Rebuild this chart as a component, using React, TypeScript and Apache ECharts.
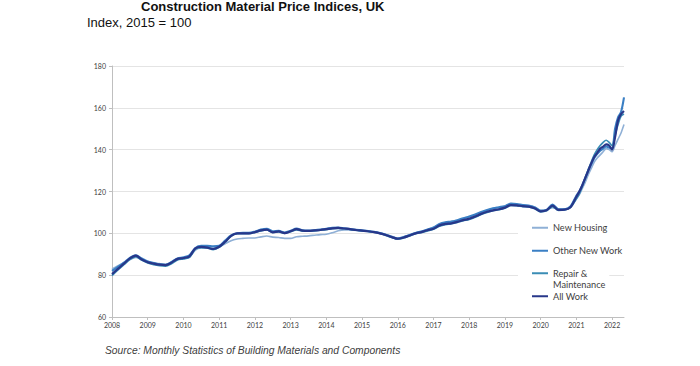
import React, { useEffect, useRef } from "react";
import * as echarts from "echarts";

// Sample periods: bi-monthly 2008–2020, monthly 2021–May 2022
const periods: string[] = [];
for (let y = 2008; y <= 2020; y++) for (let m = 1; m <= 11; m += 2) periods.push(`${y}-${String(m).padStart(2, "0")}`);
for (let m = 1; m <= 12; m++) periods.push(`2021-${String(m).padStart(2, "0")}`);
for (let m = 1; m <= 5; m++) periods.push(`2022-${String(m).padStart(2, "0")}`);

const newHousing = [
  83, 84.5, 86, 87.5, 88.5, 87.5,
  86.5, 86, 85.5, 85.2, 86, 87.5,
  88, 88.5, 92, 93, 93, 93,
  93.5, 95, 96.5, 97.3, 97.6, 97.8,
  97.8, 98.3, 98.7, 98.2, 98, 97.6,
  97.6, 98.4, 98.6, 98.8, 99.1, 99.4,
  99.6, 100.3, 101.2, 101.6, 101.6, 101.4,
  101.2, 100.9, 100.6, 100.1, 99.4, 98.6,
  97.8, 98.4, 99.3, 100.3, 101, 101.8,
  102.8, 104.3, 105.2, 105.6, 106.3, 107,
  107.8, 108.8, 110, 111, 111.8, 112.4,
  113, 114, 113.8, 113.6, 113.4, 112.6,
  111, 111.3, 112.2, 111.5, 111.6, 112.6,
  116.5, 118.5, 121.5, 124.5, 128, 131, 134, 136, 137.5, 139, 140.5, 140,
  139, 142, 145, 148, 152,
];

const otherNewWork = [
  82, 84, 86, 88.3, 89.5, 88,
  86.5, 85.8, 85.2, 85, 86.3, 88,
  88.5, 89.5, 93, 94, 94, 93.8,
  94, 96.5, 99, 100, 100.3, 100.2,
  100.8, 101.8, 102.2, 101, 101.2, 100.4,
  101.2, 102.3, 101.5, 101.3, 101.5, 101.8,
  102.2, 102.7, 102.8, 102.4, 102, 101.7,
  101.4, 101.1, 100.7, 100.1, 99.3, 98.3,
  97.5, 98.2, 99.2, 100.2, 100.9, 101.8,
  102.8, 104.5, 105.3, 105.6, 106.3, 107.2,
  108, 109, 110.2, 111.2, 112, 112.5,
  113, 114.2, 114, 113.5, 113.2, 112.4,
  110.8, 111.2, 113.8, 111.5, 111.5, 112.8,
  118, 120, 123, 126.5, 130, 133, 136, 138, 139.5, 140.5, 141.5, 141,
  140.5, 150, 155.5, 158, 165,
];

const repairMaintenance = [
  79.8, 82.5, 85, 87.5, 88.8, 87.2,
  85.8, 85, 84.5, 84.3, 85.5, 87.3,
  87.8, 88.5, 92.5, 93.2, 93, 92.2,
  93.3, 95.8, 98.6, 99.8, 99.9, 99.9,
  100.4, 101.2, 101.6, 100.4, 100.7, 100,
  100.8, 101.7, 101.1, 101, 101.2, 101.5,
  101.8, 102.2, 102.4, 102.2, 101.9, 101.5,
  101.2, 100.9, 100.5, 99.9, 99, 98,
  97.2, 97.8, 98.8, 99.8, 100.4, 101.2,
  102, 103.4, 104.2, 104.6, 105.2, 106,
  106.7, 107.7, 109, 110, 110.8, 111.3,
  112, 113.3, 113.2, 112.8, 112.6, 111.8,
  110.3, 110.8, 112.8, 111, 111.2, 112.3,
  116.5, 119, 122.5, 126.5, 130.5, 134, 137.5, 140, 142, 143.5, 144.5, 143.5,
  142, 147, 152, 156, 157,
];

const allWork = [
  80.5, 83, 85.5, 88, 89.3, 87.5,
  86.2, 85.5, 85, 84.8, 86, 87.8,
  88.2, 89, 92.8, 93.5, 93.2, 92.5,
  93.6, 96, 98.8, 100, 100, 100,
  100.6, 101.4, 101.8, 100.5, 100.9, 100.1,
  101, 102, 101.3, 101.2, 101.4, 101.6,
  102, 102.4, 102.6, 102.3, 102, 101.6,
  101.3, 101, 100.6, 100, 99.2, 98.2,
  97.4, 98, 99, 100, 100.6, 101.5,
  102.2, 103.8, 104.5, 104.8, 105.5, 106.3,
  107, 108, 109.3, 110.3, 111, 111.5,
  112.3, 113.5, 113.4, 113, 112.8, 112,
  110.5, 111, 113.2, 111.2, 111.3, 112.5,
  117.5, 120, 123, 126.5, 130, 133.5, 136.5, 138.5, 140.5, 141.5, 142.5, 142,
  140, 146, 154, 157, 158.5,
];

const seriesNames = ["New Housing", "Other New Work", "Repair & Maintenance", "All Work"];
const seriesColors = ["#8fb0d6", "#3a7fc4", "#3a8db5", "#27378a"];
const seriesWidths = [1.6, 2.1, 1.7, 2.2];
const seriesValues = [newHousing, otherNewWork, repairMaintenance, allWork];

const yTicks = { min: 60, max: 180, interval: 20 };
const xStart = 2008;

const toX = (p: string) => {
  const [y, m] = p.split("-").map(Number);
  return y + (m - 1) / 12;
};

export default function App() {
  const ref = useRef<HTMLDivElement>(null);
  useEffect(() => {
    if (!ref.current) return;
    const chart = echarts.init(ref.current, null, { renderer: "svg" });
    const xs = periods.map(toX);
    const legendText = {
      fontFamily: "Lato",
      fontSize: 9.2,
      color: "#404040",
      lineHeight: 11.5,
    };
    chart.setOption({
      animation: false,
      backgroundColor: "#ffffff",
      title: [
        {
          text: "Construction Material Price Indices, UK",
          left: 141,
          top: 0,
          padding: 0,
          textStyle: { fontFamily: "Liberation Sans", fontSize: 13, fontWeight: "bold", color: "#111" },
        },
        {
          text: "Index, 2015 = 100",
          left: 87,
          top: 16,
          padding: 0,
          textStyle: { fontFamily: "Liberation Sans", fontSize: 13, fontWeight: "normal", color: "#111" },
        },
        {
          text: "Source: Monthly Statistics of Building Materials and Components",
          left: 105,
          top: 345,
          padding: 0,
          textStyle: { fontFamily: "Liberation Sans", fontSize: 10.3, fontStyle: "italic", fontWeight: "normal", color: "#404040" },
        },
      ],
      legend: [
        {
          data: [seriesNames[0], seriesNames[1]],
          orient: "vertical",
          left: 518,
          top: 217,
          itemGap: 11.5,
          itemWidth: 16,
          itemHeight: 2,
          icon: "rect",
          padding: [5, 4, 5, 14],
          backgroundColor: "#ffffff",
          textStyle: legendText,
        },
        {
          data: [seriesNames[2], seriesNames[3]],
          orient: "vertical",
          left: 518,
          top: 252,
          itemGap: 0,
          itemWidth: 16,
          itemHeight: 2,
          icon: "rect",
          padding: [4, 4, 6, 14],
          backgroundColor: "#ffffff",
          formatter: (name: string) => (name === "Repair & Maintenance" ? "\nRepair &\nMaintenance" : name),
          textStyle: legendText,
        },
      ],
      grid: { left: 112, right: 76, top: 66, bottom: 49 },
      xAxis: {
        type: "value",
        min: xStart,
        max: toX(periods[periods.length - 1]),
        interval: 1,
        axisLine: { lineStyle: { color: "#bfbfbf", width: 1 } },
        axisTick: { show: true, length: 3, lineStyle: { color: "#bfbfbf" } },
        splitLine: { show: false },
        axisLabel: {
          fontFamily: "Lato",
          fontSize: 7,
          color: "#404040",
          margin: 4,
          showMaxLabel: false,
          formatter: (v: number) => (Math.abs(v - Math.round(v)) < 1e-6 ? String(Math.round(v)) : ""),
        },
      },
      yAxis: {
        type: "value",
        min: yTicks.min,
        max: yTicks.max,
        interval: yTicks.interval,
        axisLine: { show: true, lineStyle: { color: "#bfbfbf", width: 1 } },
        axisTick: { show: true, length: 3, lineStyle: { color: "#bfbfbf" } },
        splitLine: { lineStyle: { color: "#e4e4e4", width: 1 } },
        axisLabel: { fontFamily: "Lato", fontSize: 7, color: "#404040", margin: 6 },
      },
      series: seriesNames.map((name, i) => ({
        name,
        type: "line",
        showSymbol: false,
        smooth: 0.3,
        color: seriesColors[i],
        lineStyle: { color: seriesColors[i], width: seriesWidths[i] },
        data: seriesValues[i].map((v, j) => [xs[j], v]),
        z: 2 + i,
      })),
    });
    return () => chart.dispose();
  }, []);
  return (
    <div
      ref={ref}
      style={{ position: "absolute", left: 0, top: 0, width: 700, height: 366 }}
    />
  );
}
